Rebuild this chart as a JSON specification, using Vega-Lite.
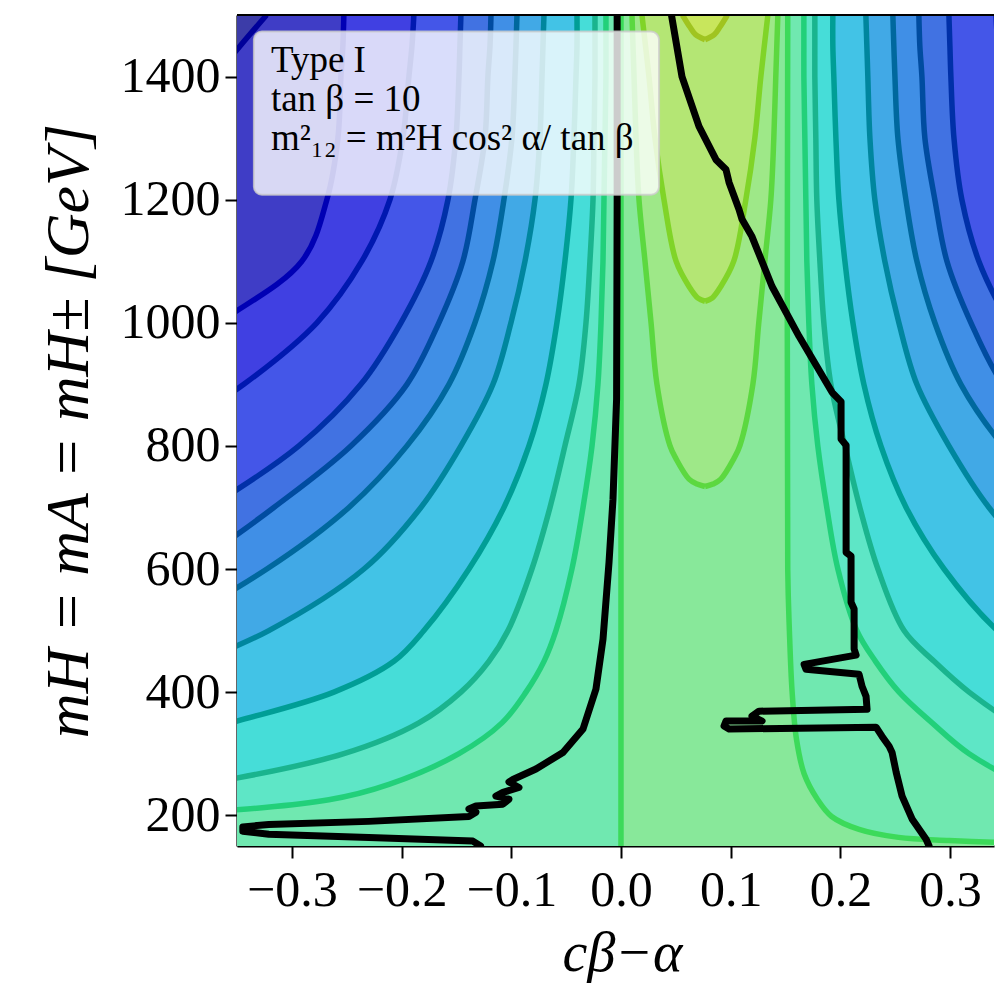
{
  "$schema": "https://vega.github.io/schema/vega-lite/v6.json",
  "width": 757,
  "height": 831,
  "autosize": {"type": "none"},
  "padding": {"left": 237, "top": 15, "right": 1, "bottom": 147},
  "background": "white",
  "config": {"view": {"stroke": null}, "font": "Liberation Serif"},
  "datasets": {
    "bands": [
      {"lev":0,"m":1500,"lo":-0.9,"hi":0.9},{"lev":0,"m":150,"lo":-0.9,"hi":0.9},
      {"lev":1,"m":1500,"lo":-0.323,"hi":0.9},{"lev":1,"m":1450,"lo":-0.347,"hi":0.9},{"lev":1,"m":1400,"lo":-0.37,"hi":0.9},{"lev":1,"m":1300,"lo":-0.42,"hi":0.9},{"lev":1,"m":150,"lo":-0.9,"hi":0.9},
      {"lev":2,"m":1500,"lo":-0.2526,"hi":0.9},{"lev":2,"m":1450,"lo":-0.2535,"hi":0.9},{"lev":2,"m":1400,"lo":-0.2553,"hi":0.9},{"lev":2,"m":1300,"lo":-0.258,"hi":0.9},{"lev":2,"m":1200,"lo":-0.2681,"hi":0.9},{"lev":2,"m":1100,"lo":-0.2909,"hi":0.9},{"lev":2,"m":1000,"lo":-0.3665,"hi":0.9},{"lev":2,"m":900,"lo":-0.45,"hi":0.9},{"lev":2,"m":150,"lo":-0.9,"hi":0.9},
      {"lev":3,"m":1500,"lo":-0.1888,"hi":0.3418},{"lev":3,"m":1450,"lo":-0.1905,"hi":0.3435},{"lev":3,"m":1400,"lo":-0.1933,"hi":0.3463},{"lev":3,"m":1300,"lo":-0.1988,"hi":0.3518},{"lev":3,"m":1200,"lo":-0.2106,"hi":0.3636},{"lev":3,"m":1100,"lo":-0.2362,"hi":0.3892},{"lev":3,"m":1000,"lo":-0.2772,"hi":0.43},{"lev":3,"m":900,"lo":-0.3438,"hi":0.5},{"lev":3,"m":800,"lo":-0.43,"hi":0.58},{"lev":3,"m":150,"lo":-0.9,"hi":0.9},
      {"lev":4,"m":1500,"lo":-0.1459,"hi":0.2989},{"lev":4,"m":1450,"lo":-0.1468,"hi":0.2998},{"lev":4,"m":1400,"lo":-0.1477,"hi":0.3007},{"lev":4,"m":1300,"lo":-0.1505,"hi":0.3035},{"lev":4,"m":1200,"lo":-0.1577,"hi":0.3107},{"lev":4,"m":1100,"lo":-0.1732,"hi":0.3262},{"lev":4,"m":1000,"lo":-0.2006,"hi":0.3536},{"lev":4,"m":900,"lo":-0.2371,"hi":0.3901},{"lev":4,"m":800,"lo":-0.2936,"hi":0.4466},{"lev":4,"m":700,"lo":-0.3757,"hi":0.53},{"lev":4,"m":600,"lo":-0.476,"hi":0.63},{"lev":4,"m":150,"lo":-0.9,"hi":0.9},
      {"lev":5,"m":1500,"lo":-0.1185,"hi":0.2715},{"lev":5,"m":1450,"lo":-0.1194,"hi":0.2724},{"lev":5,"m":1400,"lo":-0.1213,"hi":0.2743},{"lev":5,"m":1300,"lo":-0.124,"hi":0.277},{"lev":5,"m":1200,"lo":-0.1331,"hi":0.2861},{"lev":5,"m":1100,"lo":-0.1441,"hi":0.2971},{"lev":5,"m":1000,"lo":-0.166,"hi":0.319},{"lev":5,"m":900,"lo":-0.1951,"hi":0.3481},{"lev":5,"m":800,"lo":-0.2462,"hi":0.3992},{"lev":5,"m":700,"lo":-0.3164,"hi":0.4694},{"lev":5,"m":600,"lo":-0.3939,"hi":0.547},{"lev":5,"m":500,"lo":-0.476,"hi":0.63},{"lev":5,"m":150,"lo":-0.9,"hi":0.9},
      {"lev":6,"m":1500,"lo":-0.0948,"hi":0.2478},{"lev":6,"m":1450,"lo":-0.0957,"hi":0.2487},{"lev":6,"m":1400,"lo":-0.0967,"hi":0.2497},{"lev":6,"m":1300,"lo":-0.0994,"hi":0.2524},{"lev":6,"m":1200,"lo":-0.1067,"hi":0.2597},{"lev":6,"m":1100,"lo":-0.1167,"hi":0.2697},{"lev":6,"m":1000,"lo":-0.1331,"hi":0.2861},{"lev":6,"m":900,"lo":-0.1568,"hi":0.3098},{"lev":6,"m":800,"lo":-0.1951,"hi":0.3481},{"lev":6,"m":700,"lo":-0.248,"hi":0.401},{"lev":6,"m":600,"lo":-0.3228,"hi":0.4758},{"lev":6,"m":500,"lo":-0.4213,"hi":0.574},{"lev":6,"m":400,"lo":-0.55,"hi":0.7},{"lev":6,"m":150,"lo":-0.9,"hi":0.9},
      {"lev":7,"m":1500,"lo":-0.0702,"hi":0.2232},{"lev":7,"m":1450,"lo":-0.0711,"hi":0.2241},{"lev":7,"m":1400,"lo":-0.072,"hi":0.225},{"lev":7,"m":1300,"lo":-0.0739,"hi":0.2269},{"lev":7,"m":1200,"lo":-0.0784,"hi":0.2314},{"lev":7,"m":1100,"lo":-0.0875,"hi":0.2405},{"lev":7,"m":1000,"lo":-0.1003,"hi":0.2533},{"lev":7,"m":900,"lo":-0.1167,"hi":0.2697},{"lev":7,"m":800,"lo":-0.1459,"hi":0.2989},{"lev":7,"m":700,"lo":-0.1824,"hi":0.3354},{"lev":7,"m":600,"lo":-0.2343,"hi":0.3873},{"lev":7,"m":500,"lo":-0.321,"hi":0.474},{"lev":7,"m":450,"lo":-0.3848,"hi":0.54},{"lev":7,"m":400,"lo":-0.4577,"hi":0.61},{"lev":7,"m":150,"lo":-0.9,"hi":0.9},
      {"lev":8,"m":1500,"lo":-0.0401,"hi":0.1931},{"lev":8,"m":1450,"lo":-0.0401,"hi":0.1931},{"lev":8,"m":1400,"lo":-0.041,"hi":0.194},{"lev":8,"m":1300,"lo":-0.0429,"hi":0.1959},{"lev":8,"m":1200,"lo":-0.0456,"hi":0.1986},{"lev":8,"m":1100,"lo":-0.0511,"hi":0.2041},{"lev":8,"m":1000,"lo":-0.0584,"hi":0.2114},{"lev":8,"m":900,"lo":-0.0684,"hi":0.2214},{"lev":8,"m":800,"lo":-0.0839,"hi":0.2369},{"lev":8,"m":700,"lo":-0.1067,"hi":0.2599},{"lev":8,"m":600,"lo":-0.1386,"hi":0.2945},{"lev":8,"m":500,"lo":-0.1796,"hi":0.343},{"lev":8,"m":450,"lo":-0.207,"hi":0.38},{"lev":8,"m":400,"lo":-0.2617,"hi":0.44},{"lev":8,"m":350,"lo":-0.3557,"hi":0.53},{"lev":8,"m":300,"lo":-0.4577,"hi":0.62},{"lev":8,"m":150,"lo":-0.9,"hi":0.9},
      {"lev":9,"m":1500,"lo":-0.0237,"hi":0.1767},{"lev":9,"m":1450,"lo":-0.0237,"hi":0.1767},{"lev":9,"m":1400,"lo":-0.0237,"hi":0.1767},{"lev":9,"m":1300,"lo":-0.0246,"hi":0.1776},{"lev":9,"m":1200,"lo":-0.0255,"hi":0.1785},{"lev":9,"m":1100,"lo":-0.0283,"hi":0.1813},{"lev":9,"m":1000,"lo":-0.0319,"hi":0.1849},{"lev":9,"m":900,"lo":-0.0383,"hi":0.1913},{"lev":9,"m":800,"lo":-0.0511,"hi":0.2041},{"lev":9,"m":700,"lo":-0.0647,"hi":0.2177},{"lev":9,"m":600,"lo":-0.0812,"hi":0.2342},{"lev":9,"m":500,"lo":-0.103,"hi":0.258},{"lev":9,"m":450,"lo":-0.1204,"hi":0.2854},{"lev":9,"m":400,"lo":-0.1459,"hi":0.3173},{"lev":9,"m":350,"lo":-0.1842,"hi":0.36},{"lev":9,"m":300,"lo":-0.2526,"hi":0.45},{"lev":9,"m":250,"lo":-0.383,"hi":0.6},{"lev":9,"m":200,"lo":-0.6,"hi":0.8},{"lev":9,"m":150,"lo":-0.9,"hi":0.9},
      {"lev":10,"m":1500,"lo":-0.0137,"hi":0.1667},{"lev":10,"m":1450,"lo":-0.0137,"hi":0.1667},{"lev":10,"m":1400,"lo":-0.0137,"hi":0.1667},{"lev":10,"m":1300,"lo":-0.0146,"hi":0.1676},{"lev":10,"m":1200,"lo":-0.0155,"hi":0.1685},{"lev":10,"m":1100,"lo":-0.0164,"hi":0.1694},{"lev":10,"m":1000,"lo":-0.0182,"hi":0.1712},{"lev":10,"m":900,"lo":-0.021,"hi":0.174},{"lev":10,"m":800,"lo":-0.0264,"hi":0.1794},{"lev":10,"m":700,"lo":-0.0346,"hi":0.1876},{"lev":10,"m":600,"lo":-0.0447,"hi":0.1977},{"lev":10,"m":500,"lo":-0.0593,"hi":0.215},{"lev":10,"m":450,"lo":-0.0702,"hi":0.232},{"lev":10,"m":400,"lo":-0.0866,"hi":0.2535},{"lev":10,"m":350,"lo":-0.1085,"hi":0.2836},{"lev":10,"m":300,"lo":-0.1477,"hi":0.3173},{"lev":10,"m":250,"lo":-0.2115,"hi":0.37},{"lev":10,"m":225,"lo":-0.2663,"hi":0.42},{"lev":10,"m":200,"lo":-0.42,"hi":0.5},{"lev":10,"m":175,"lo":-0.7,"hi":0.7},{"lev":10,"m":150,"lo":-0.9,"hi":0.9},
      {"lev":11,"m":1500,"lo":0.0,"hi":0.152},{"lev":11,"m":600,"lo":0.0,"hi":0.152},{"lev":11,"m":500,"lo":0.0,"hi":0.1535},{"lev":11,"m":400,"lo":0.0,"hi":0.156},{"lev":11,"m":323,"lo":0.0,"hi":0.16},{"lev":11,"m":267,"lo":0.0,"hi":0.167},{"lev":11,"m":226,"lo":0.0,"hi":0.179},{"lev":11,"m":198,"lo":0.0,"hi":0.192},{"lev":11,"m":177,"lo":0.0,"hi":0.217},{"lev":11,"m":164,"lo":0.0,"hi":0.253},{"lev":11,"m":159,"lo":0.0,"hi":0.299},{"lev":11,"m":156,"lo":0.0,"hi":0.34},{"lev":11,"m":152,"lo":0.0,"hi":0.45},{"lev":11,"m":150,"lo":0.0,"hi":0.6},
      {"lev":12,"m":1500,"lo":0.01,"hi":0.143},{"lev":12,"m":1400,"lo":0.0119,"hi":0.1411},{"lev":12,"m":1300,"lo":0.0137,"hi":0.1393},{"lev":12,"m":1200,"lo":0.0164,"hi":0.1366},{"lev":12,"m":1100,"lo":0.0219,"hi":0.1311},{"lev":12,"m":1000,"lo":0.0274,"hi":0.1256},{"lev":12,"m":900,"lo":0.0328,"hi":0.1202},{"lev":12,"m":800,"lo":0.0447,"hi":0.1083},{"lev":12,"m":779,"lo":0.0502,"hi":0.1028},{"lev":12,"m":746,"lo":0.062,"hi":0.091},{"lev":12,"m":738,"lo":0.0693,"hi":0.0839},{"lev":12,"m":734,"lo":0.0766,"hi":0.0766},
      {"lev":13,"m":1500,"lo":0.0191,"hi":0.1339},{"lev":13,"m":1400,"lo":0.0255,"hi":0.1275},{"lev":13,"m":1300,"lo":0.031,"hi":0.122},{"lev":13,"m":1200,"lo":0.0392,"hi":0.1138},{"lev":13,"m":1100,"lo":0.0502,"hi":0.1028},{"lev":13,"m":1059,"lo":0.062,"hi":0.091},{"lev":13,"m":1040,"lo":0.0702,"hi":0.083},{"lev":13,"m":1035,"lo":0.0766,"hi":0.0766},
      {"lev":14,"m":1500,"lo":0.056,"hi":0.097},{"lev":14,"m":1480,"lo":0.063,"hi":0.09},{"lev":14,"m":1468,"lo":0.068,"hi":0.085},{"lev":14,"m":1460,"lo":0.0766,"hi":0.0766}
    ],
    "bound": [
      {"part":"a","i":1,"c":-0.0035,"m":1500},{"part":"a","i":2,"c":-0.0035,"m":1197},{"part":"a","i":3,"c":-0.004,"m":876},{"part":"a","i":4,"c":-0.005,"m":827},{"part":"a","i":5,"c":-0.0073,"m":713},{"part":"a","i":6,"c":-0.0109,"m":611},{"part":"a","i":7,"c":-0.0164,"m":486},{"part":"a","i":8,"c":-0.0228,"m":405},{"part":"a","i":9,"c":-0.0346,"m":340},{"part":"a","i":10,"c":-0.0529,"m":302},{"part":"a","i":11,"c":-0.0775,"m":275},{"part":"a","i":12,"c":-0.0985,"m":258},{"part":"a","i":13,"c":-0.1021,"m":254},{"part":"a","i":14,"c":-0.093,"m":245},{"part":"a","i":15,"c":-0.1076,"m":237},{"part":"a","i":16,"c":-0.114,"m":231},{"part":"a","i":17,"c":-0.1021,"m":226},{"part":"a","i":18,"c":-0.1076,"m":218},{"part":"a","i":19,"c":-0.1322,"m":215},{"part":"a","i":20,"c":-0.1386,"m":210},{"part":"a","i":21,"c":-0.1322,"m":205},{"part":"a","i":22,"c":-0.1386,"m":198},{"part":"a","i":23,"c":-0.2298,"m":190},{"part":"a","i":24,"c":-0.321,"m":185},{"part":"a","i":25,"c":-0.3447,"m":181},{"part":"a","i":26,"c":-0.3447,"m":174},{"part":"a","i":27,"c":-0.321,"m":169},{"part":"a","i":28,"c":-0.2298,"m":164},{"part":"a","i":29,"c":-0.135,"m":158},{"part":"a","i":30,"c":-0.128,"m":150},
      {"part":"b","i":1,"c":0.046,"m":1500},{"part":"b","i":2,"c":0.0556,"m":1400},{"part":"b","i":3,"c":0.0711,"m":1319},{"part":"b","i":4,"c":0.0866,"m":1265},{"part":"b","i":5,"c":0.0957,"m":1249},{"part":"b","i":6,"c":0.0985,"m":1228},{"part":"b","i":7,"c":0.1076,"m":1184},{"part":"b","i":8,"c":0.1103,"m":1168},{"part":"b","i":9,"c":0.1194,"m":1140},{"part":"b","i":10,"c":0.1377,"m":1059},{"part":"b","i":11,"c":0.1623,"m":978},{"part":"b","i":12,"c":0.1924,"m":887},{"part":"b","i":13,"c":0.2006,"m":872},{"part":"b","i":14,"c":0.2006,"m":811},{"part":"b","i":15,"c":0.2052,"m":801},{"part":"b","i":16,"c":0.2052,"m":627},{"part":"b","i":17,"c":0.2097,"m":621},{"part":"b","i":18,"c":0.2097,"m":546},{"part":"b","i":19,"c":0.2125,"m":535},{"part":"b","i":20,"c":0.2125,"m":470},{"part":"b","i":21,"c":0.2143,"m":460},{"part":"b","i":22,"c":0.1669,"m":445},{"part":"b","i":23,"c":0.1687,"m":437},{"part":"b","i":24,"c":0.217,"m":429},{"part":"b","i":25,"c":0.2198,"m":409},{"part":"b","i":26,"c":0.2234,"m":393},{"part":"b","i":27,"c":0.2243,"m":372},{"part":"b","i":28,"c":0.1258,"m":369},{"part":"b","i":29,"c":0.1194,"m":361},{"part":"b","i":30,"c":0.1286,"m":353},{"part":"b","i":31,"c":0.0957,"m":353},{"part":"b","i":32,"c":0.0939,"m":345},{"part":"b","i":33,"c":0.0985,"m":340},{"part":"b","i":34,"c":0.2325,"m":343},{"part":"b","i":35,"c":0.238,"m":328},{"part":"b","i":36,"c":0.2444,"m":312},{"part":"b","i":37,"c":0.2471,"m":302},{"part":"b","i":38,"c":0.2508,"m":270},{"part":"b","i":39,"c":0.2562,"m":231},{"part":"b","i":40,"c":0.2653,"m":194},{"part":"b","i":41,"c":0.2781,"m":161},{"part":"b","i":42,"c":0.2808,"m":150}
    ]
  },
  "layer": [
    {
      "data": {"name": "bands"},
      "mark": {"type": "area", "orient": "horizontal", "clip": true, "interpolate": "catmull-rom"},
      "encoding": {
        "y": {
          "field": "m", "type": "quantitative",
          "scale": {"domain": [150, 1500], "nice": false, "zero": false},
          "axis": {
            "values": [200, 400, 600, 800, 1000, 1200, 1400], "format": "d",
            "title": "mH = mA = mH± [GeV]",
            "grid": false, "tickSize": 12, "tickWidth": 2, "tickColor": "black",
            "domainColor": "black", "domainWidth": 2.2,
            "labelFont": "Liberation Serif", "labelFontSize": 50, "labelColor": "black", "labelPadding": 5,
            "titleFont": "Liberation Serif", "titleFontSize": 62, "titleFontStyle": "italic", "titleFontWeight": "normal",
            "titleColor": "black", "titleX": -150, "titleBaseline": "alphabetic"
          }
        },
        "x": {
          "field": "lo", "type": "quantitative", "stack": null,
          "scale": {"domain": [-0.35, 0.34], "nice": false, "zero": false},
          "axis": {
            "values": [-0.3, -0.2, -0.1, 0, 0.1, 0.2, 0.3], "format": ".1f",
            "title": "cβ−α",
            "grid": false, "tickSize": 12, "tickWidth": 2, "tickColor": "black",
            "domainColor": "black", "domainWidth": 2.2,
            "labelFont": "Liberation Serif", "labelFontSize": 50, "labelColor": "black", "labelPadding": 7,
            "titleFont": "Liberation Serif", "titleFontSize": 56, "titleFontStyle": "italic", "titleFontWeight": "normal",
            "titleColor": "black", "titleX": 385, "titleY": 124, "titleBaseline": "alphabetic"
          }
        },
        "x2": {"field": "hi"},
        "fill": {
          "field": "lev", "type": "nominal", "legend": null,
          "scale": {
            "domain": [0, 1, 2, 3, 4, 5, 6, 7, 8, 9, 10, 11, 12, 13, 14],
            "range": ["#3c3ca8", "#3f3dc6", "#4040e2", "#4456e8", "#4172e2", "#408fe6", "#41a9e6", "#42c3e6", "#46ddd8", "#5ee6c6", "#70e8b0", "#88e89a", "#9ee888", "#b4e674", "#c8e65c"]
          }
        }
      }
    },
    {
      "data": {"name": "bands"},
      "transform": [{"filter": "datum.lev > 0"}],
      "mark": {"type": "line", "clip": true, "strokeWidth": 5.5, "interpolate": "catmull-rom"},
      "encoding": {
        "y": {"field": "m", "type": "quantitative"},
        "x": {"field": "lo", "type": "quantitative"},
        "order": {"field": "m", "type": "quantitative"},
        "stroke": {
          "field": "lev", "type": "nominal", "legend": null,
          "scale": {
            "domain": [1, 2, 3, 4, 5, 6, 7, 8, 9, 10, 11, 12, 13, 14],
            "range": ["#00009a", "#0000b4", "#0018b0", "#0030a8", "#004ca0", "#00689e", "#00869e", "#009e96", "#1ab48e", "#22d07a", "#3cda5a", "#5cd840", "#80d428", "#a0c420"]
          }
        }
      }
    },
    {
      "data": {"name": "bands"},
      "transform": [{"filter": "datum.lev > 0"}],
      "mark": {"type": "line", "clip": true, "strokeWidth": 5.5, "interpolate": "catmull-rom"},
      "encoding": {
        "y": {"field": "m", "type": "quantitative"},
        "x": {"field": "hi", "type": "quantitative"},
        "order": {"field": "m", "type": "quantitative"},
        "stroke": {"field": "lev", "type": "nominal", "legend": null}
      }
    },
    {
      "data": {"name": "bound"},
      "mark": {"type": "line", "clip": true, "stroke": "black", "strokeWidth": 7, "strokeJoin": "round", "strokeCap": "round"},
      "encoding": {
        "y": {"field": "m", "type": "quantitative"},
        "x": {"field": "c", "type": "quantitative"},
        "detail": {"field": "part"},
        "order": {"field": "i", "type": "quantitative"}
      }
    },
    {
      "data": {"values": [{}]},
      "mark": {"type": "rule", "stroke": "black", "strokeWidth": 2.2},
      "encoding": {"y": {"datum": 1500}}
    },
    {
      "data": {"values": [{}]},
      "mark": {"type": "rect", "cornerRadius": 8, "fill": "white", "fillOpacity": 0.8, "stroke": "#cccccc", "strokeOpacity": 0.8, "strokeWidth": 2},
      "encoding": {
        "x": {"datum": -0.3346}, "x2": {"datum": 0.0347},
        "y": {"datum": 1473}, "y2": {"datum": 1208}
      }
    },
    {
      "data": {"values": [{}]},
      "mark": {"type": "text", "align": "left", "baseline": "alphabetic", "font": "Liberation Serif", "fontSize": 37, "lineHeight": 39, "color": "black"},
      "encoding": {
        "x": {"datum": -0.3191},
        "y": {"datum": 1408},
        "text": {"value": ["Type I", "tan β = 10", "m²₁₂ = m²H cos² α/ tan β"]}
      }
    }
  ]
}
